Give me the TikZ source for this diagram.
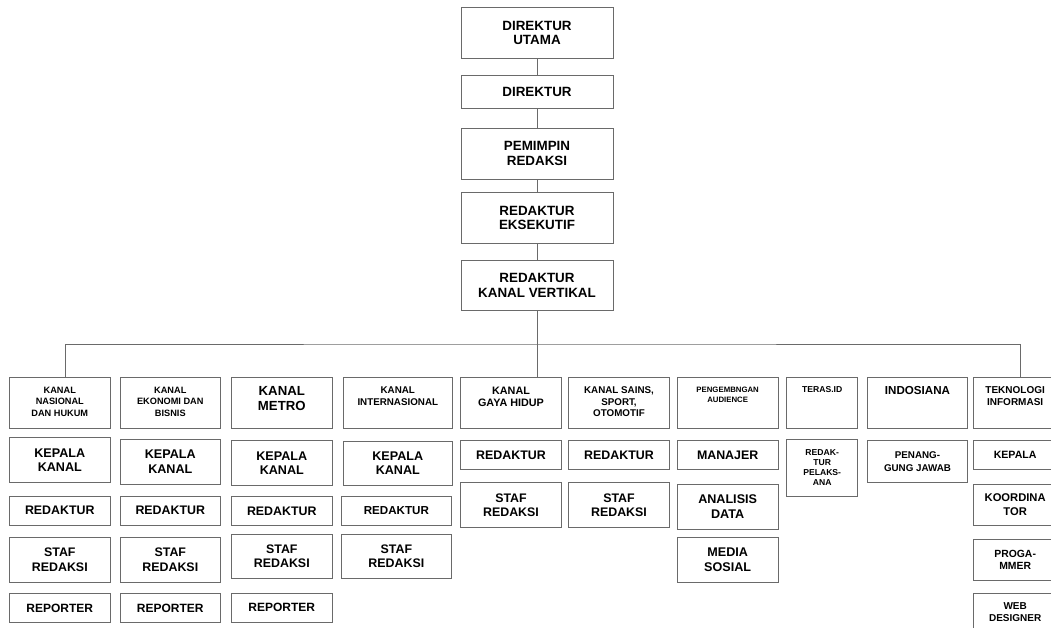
\documentclass[tikz,border=0pt]{standalone}
\usepackage{fontspec}
\setmainfont{Liberation Sans}
\definecolor{ln}{HTML}{6A6A6A}
\tikzset{
  box/.style={draw=ln, line width=0.9pt, inner sep=0pt, font=\bfseries},
  conn/.style={draw=ln, line width=0.9pt}
}
% centred box: name, x1, y1, x2, y2, size, leading, text
\newcommand\ob[8]{%
  \pgfmathsetlengthmacro\obw{(#4)-(#2)}%
  \pgfmathsetlengthmacro\obh{(#5)-(#3)}%
  \node[box] (#1) at ({((#2)+(#4))/2},{((#3)+(#5))/2})
    {\parbox[b][\obh][c]{\obw}{\centering\fontsize{#6}{#7}\selectfont #8\par}};}
% header box (top-aligned text): name, x1, x2, size, leading, text
\newcommand\hb[6]{%
  \pgfmathsetlengthmacro\obw{(#3)-(#2)}%
  \node[box] (#1) at ({((#2)+(#3))/2},402.8)
    {\parbox[b][51pt][t]{\obw}{\centering\fontsize{#4}{#5}\selectfont\vspace*{9.5pt}#6\par}};}
\begin{document}
\begin{tikzpicture}[x=1pt,y=-1pt]
\fill[white] (0,0) rectangle (1051,627);
\clip (0,0) rectangle (1051,627);
% top chain
\ob{du}{461}{7.3}{613}{58.7}{13.4}{14.5}{DIREKTUR\\UTAMA}
\ob{dir}{461}{75}{613}{108.3}{13.4}{14.5}{DIREKTUR}
\ob{pr}{461}{128.3}{613}{179}{13.4}{14.5}{PEMIMPIN\\REDAKSI}
\ob{re}{461}{192.7}{613}{243.3}{13.4}{14.5}{REDAKTUR\\EKSEKUTIF}
\ob{rkv}{461}{260}{613}{310.7}{13.4}{14.5}{REDAKTUR\\KANAL VERTIKAL}
% headers
\hb{h1}{9.3}{110.3}{9.2}{11.5}{KANAL\\NASIONAL\\DAN HUKUM}
\hb{h2}{120.3}{220.3}{9.2}{11.5}{KANAL\\EKONOMI DAN\\BISNIS}
\hb{h3}{231.3}{332.3}{13.2}{15}{KANAL\\METRO}
\hb{h4}{343.3}{452.3}{9.8}{12}{KANAL\\INTERNASIONAL}
\hb{h5}{460.7}{561.3}{10.8}{12}{KANAL\\GAYA HIDUP}
\hb{h6}{568.7}{669.3}{9.8}{11.5}{KANAL SAINS,\\SPORT,\\OTOMOTIF}
\hb{h7}{677.3}{778}{7.8}{10}{PENGEMBNGAN\\AUDIENCE}
\hb{h8}{786.7}{857.7}{8.6}{10}{TERAS.ID}
\hb{h9}{867.3}{967.7}{11.6}{12}{INDOSIANA}
\hb{h10}{973.3}{1057}{10}{12}{TEKNOLOGI\\INFORMASI}
% column 1
\ob{k1}{9.3}{437.7}{110.3}{482.7}{12.6}{14.3}{KEPALA\\KANAL}
\ob{r1}{9.3}{496}{110.3}{525}{12.4}{14.3}{REDAKTUR}
\ob{s1}{9.3}{537.3}{110.3}{582.3}{12.4}{14.3}{STAF\\REDAKSI}
\ob{p1}{9.3}{593.3}{110.3}{622.7}{12}{14.3}{REPORTER}
% column 2
\ob{k2}{120.3}{439}{220.3}{484.3}{12.6}{14.3}{KEPALA\\KANAL}
\ob{r2}{120.3}{496}{220.3}{525}{12.4}{14.3}{REDAKTUR}
\ob{s2}{120.3}{537.3}{220.3}{582.3}{12.4}{14.3}{STAF\\REDAKSI}
\ob{p2}{120.3}{593.3}{220.3}{622.7}{12}{14.3}{REPORTER}
% column 3
\ob{k3}{231.3}{440.7}{332.3}{485.7}{12.6}{14.3}{KEPALA\\KANAL}
\ob{r3}{231.3}{496.7}{332.3}{525.7}{12.4}{14.3}{REDAKTUR}
\ob{s3}{231.3}{534}{332.3}{578.3}{12.4}{14.3}{STAF\\REDAKSI}
\ob{p3}{231.3}{593.3}{332.3}{622}{12}{14.3}{REPORTER}
% column 4
\ob{k4}{343.3}{441}{452.3}{485.3}{12.6}{14.3}{KEPALA\\KANAL}
\ob{r4}{341.7}{496.7}{451}{525}{11.6}{14.3}{REDAKTUR}
\ob{s4}{341.7}{534}{451}{578.3}{12.4}{14.3}{STAF\\REDAKSI}
% column 5
\ob{r5}{460.7}{440.7}{561.3}{469.3}{12.4}{14.3}{REDAKTUR}
\ob{s5}{460.7}{482.7}{561.3}{527.3}{12.4}{14.3}{STAF\\REDAKSI}
% column 6
\ob{r6}{568.7}{440.7}{669.3}{469.3}{12.4}{14.3}{REDAKTUR}
\ob{s6}{568.7}{482.7}{669.3}{527.3}{12.4}{14.3}{STAF\\REDAKSI}
% column 7
\ob{m7}{677.3}{440.7}{778}{469.3}{12.4}{14.3}{MANAJER}
\ob{a7}{677.3}{484.3}{778}{529}{12.6}{14.3}{ANALISIS\\DATA}
\ob{ms7}{677.3}{537.3}{778}{582.3}{12.6}{14.3}{MEDIA\\SOSIAL}
% column 8
\ob{rp8}{786.7}{439.3}{857.7}{496.3}{8.6}{10}{REDAK-\\TUR\\PELAKS-\\ANA}
% column 9
\ob{pj9}{867.3}{440.7}{967.7}{482.7}{9.8}{12.3}{PENANG-\\GUNG JAWAB}
% column 10
\ob{kp10}{973.3}{440.7}{1057}{469.3}{10.6}{12.3}{KEPALA}
\ob{ko10}{973.3}{484.3}{1057}{525}{11.2}{13.3}{KOORDINA\\TOR}
\ob{pg10}{973.3}{539.3}{1057}{580.7}{10.4}{12.3}{PROGA-\\MMER}
\ob{wd10}{973.3}{593.3}{1057}{631}{10}{12.3}{WEB\\DESIGNER}
% connectors
\draw[conn] (du) -- (dir);
\draw[conn] (dir) -- (pr);
\draw[conn] (pr) -- (re);
\draw[conn] (re) -- (rkv);
\draw[conn] (rkv.south) -- (rkv.south |- h5.north);
\coordinate (bus) at (537,344);
\draw[conn] ([xshift=5.5pt]h1.north) |- (bus) -| ([xshift=5.3pt]h10.north);
\end{tikzpicture}
\end{document}
